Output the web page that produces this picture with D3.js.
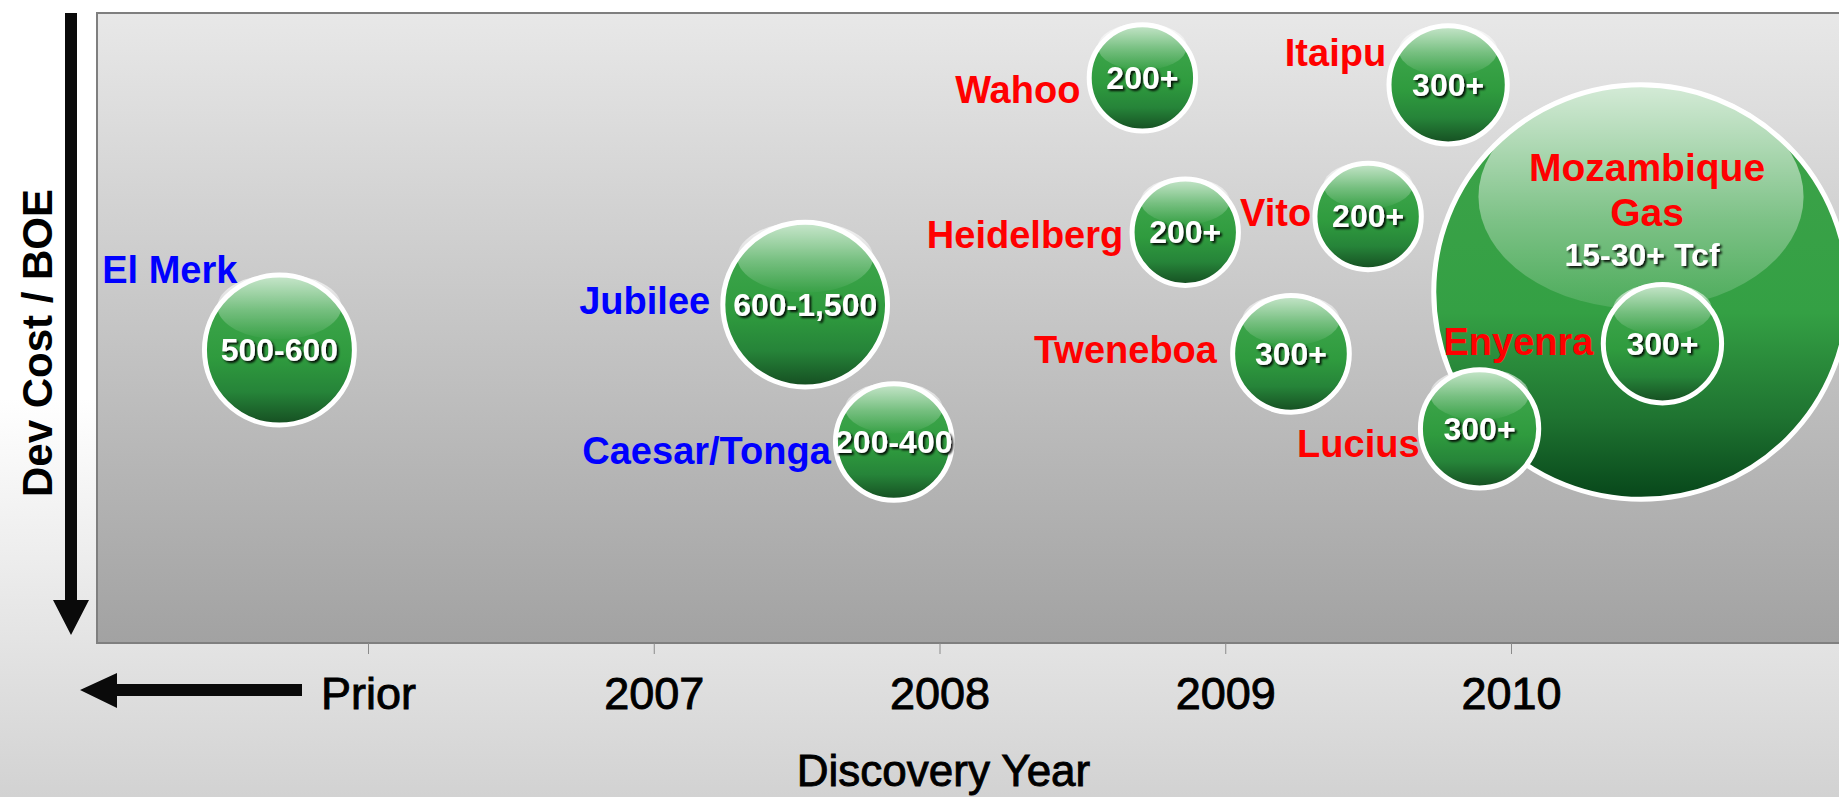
<!DOCTYPE html>
<html>
<head>
<meta charset="utf-8">
<script src="https://cdn.jsdelivr.net/npm/d3@7"></script>
<style>
  html, body { margin: 0; padding: 0; background: #fff; }
  svg { display: block; font-family: "Liberation Sans", Arial, Helvetica, sans-serif; }
</style>
</head>
<body>
<div id="chart"></div>
<script>
// x ticks: 2006 stands for everything "Prior"
const yearTicks = [2006, 2007, 2008, 2009, 2010];
const yearLabels = ['Prior', '2007', '2008', '2009', '2010'];

// discoveries (Mozambique first so the smaller bubbles sit on top of it)
const names = ['Mozambique Gas', 'El Merk', 'Jubilee', 'Caesar/Tonga', 'Wahoo', 'Heidelberg',
  'Tweneboa', 'Vito', 'Itaipu', 'Lucius', 'Enyenra'];
const discoveryYear = [2010.455, 2005.69, 2007.53, 2007.84, 2008.71, 2008.86,
  2009.23, 2009.50, 2009.78, 2009.89, 2010.53];
const devCostLevel = [55.7, 46.5, 53.7, 31.9, 89.7, 65.2, 45.9, 67.7, 88.6, 34.0, 47.5];
const bubbleSize = [440, 60, 72, 37, 31, 31, 37, 31, 38, 38, 38];
const resource = ['15-30+ Tcf', '500-600', '600-1,500', '200-400', '200+', '200+',
  '300+', '200+', '300+', '300+', '300+'];
const era = ['2008+', 'pre-2008', 'pre-2008', 'pre-2008', '2008+', '2008+',
  '2008+', '2008+', '2008+', '2008+', '2008+'];

// where each name sits relative to its bubble centre (text-anchor end)
const labelOffset = {
  'El Merk': [-42, -67], 'Jubilee': [-95, 9], 'Caesar/Tonga': [-63, 22],
  'Wahoo': [-62, 25], 'Heidelberg': [-62, 16], 'Tweneboa': [-74, 9],
  'Vito': [-57, 10], 'Itaipu': [-62, -19], 'Lucius': [-60, 28], 'Enyenra': [-69, 11]
};

const data = names.map((name, i) => ({
  name, year: discoveryYear[i], cost: devCostLevel[i], size: bubbleSize[i],
  value: resource[i], era: era[i]
}));

const W = 1839, H = 797;
const plot = { left: 97, top: 13, right: 1846, bottom: 643 };

const x = d3.scaleLinear().domain([2006, 2010]).range([368, 1511]);
const y = d3.scaleLinear().domain([0, 100]).range([plot.bottom, plot.top]);
const r = d3.scaleSqrt().domain([0, 100]).range([0, 100]);
const color = d3.scaleOrdinal().domain(['pre-2008', '2008+']).range(['#0000ff', '#ff0000']);

const svg = d3.select('#chart').append('svg')
  .attr('width', W)
  .attr('height', H);

const defs = svg.append('defs');

const grad = (id, stops) => {
  const g = defs.append('linearGradient').attr('id', id)
    .attr('x1', 0).attr('y1', 0).attr('x2', 0).attr('y2', 1);
  stops.forEach(([o, c, a]) => g.append('stop').attr('offset', o)
    .attr('stop-color', c).attr('stop-opacity', a == null ? 1 : a));
};

grad('pageBg', [[0, '#ffffff'], [0.5, '#ffffff'], [1, '#d2d2d2']]);
grad('plotBg', [[0, '#e8e8e8'], [1, '#a2a2a2']]);
grad('ball', [[0, '#45ab52'], [0.55, '#2f9b3e'], [0.78, '#268439'], [1, '#154d21']]);
grad('bigBall', [[0, '#3ea34a'], [0.55, '#34a044'], [0.8, '#1f7431'], [1, '#07461a']]);
grad('shine', [[0, '#ffffff', 0.72], [0.55, '#ffffff', 0.3], [1, '#ffffff', 0.02]]);
grad('bigShine', [[0, '#ffffff', 0.78], [0.6, '#ffffff', 0.35], [1, '#ffffff', 0.12]]);

defs.append('filter').attr('id', 'txtShadow')
  .attr('x', '-10%').attr('y', '-20%').attr('width', '130%').attr('height', '150%')
  .append('feDropShadow')
  .attr('dx', 2).attr('dy', 2).attr('stdDeviation', 0.9)
  .attr('flood-color', '#000').attr('flood-opacity', 0.9);

// backgrounds
svg.append('rect').attr('width', W).attr('height', H).attr('fill', 'url(#pageBg)');
svg.append('rect')
  .attr('x', plot.left).attr('y', plot.top)
  .attr('width', plot.right - plot.left).attr('height', plot.bottom - plot.top)
  .attr('fill', 'url(#plotBg)')
  .attr('stroke', '#7f7f7f')
  .attr('stroke-width', 2);

// x axis
const xAxis = d3.axisBottom(x)
  .tickValues(yearTicks)
  .tickFormat((d, i) => yearLabels[i])
  .tickSize(11)
  .tickPadding(23);

const gx = svg.append('g')
  .attr('transform', 'translate(0,' + plot.bottom + ')')
  .call(xAxis);
gx.select('.domain').remove();
gx.selectAll('.tick line').attr('stroke', '#8a8a8a').attr('stroke-width', 1);
gx.selectAll('.tick text')
  .attr('fill', '#000')
  .attr('stroke', '#000')
  .attr('stroke-width', 0.9)
  .style('font-size', '45px')
  .style('font-family', '"Liberation Sans", Arial, sans-serif');

svg.append('text')
  .attr('x', x(2008) + 4)
  .attr('y', 786)
  .attr('text-anchor', 'middle')
  .attr('fill', '#000')
  .attr('stroke', '#000')
  .attr('stroke-width', 0.9)
  .style('font-size', '44px')
  .text('Discovery Year');

svg.append('text')
  .attr('transform', 'translate(52,343) rotate(-90)')
  .attr('text-anchor', 'middle')
  .attr('fill', '#000')
  .style('font-size', '42px')
  .style('font-weight', 'bold')
  .text('Dev Cost / BOE');

// arrows
const arrows = svg.append('g').attr('fill', '#0a0a0a');
arrows.append('path')
  .attr('d', 'M65,13 H77 V600 H89 L71,635 L53,600 H65 Z');
arrows.append('path')
  .attr('d', 'M302,684 V696 H117 V708 L80,690 L117,673 V684 Z');

// bubbles
const bubbles = svg.append('g').selectAll('g.bubble')
  .data(data)
  .enter()
  .append('g')
  .attr('class', 'bubble')
  .attr('transform', d => 'translate(' + x(d.year) + ',' + y(d.cost) + ')');

bubbles.append('circle')
  .attr('r', d => r(d.size) - 2.5)
  .attr('fill', d => d.size > 200 ? 'url(#bigBall)' : 'url(#ball)')
  .attr('stroke', '#fff')
  .attr('stroke-width', 5);

bubbles.append('ellipse')
  .attr('cx', 0)
  .attr('cy', d => d.size > 200 ? -0.455 * r(d.size) : -0.56 * r(d.size))
  .attr('rx', d => (d.size > 200 ? 0.775 : 0.8) * r(d.size))
  .attr('ry', d => (d.size > 200 ? 0.535 : 0.42) * r(d.size))
  .attr('fill', d => d.size > 200 ? 'url(#bigShine)' : 'url(#shine)');

// names outside the small bubbles
const outside = data.filter(d => labelOffset[d.name]);
svg.append('g').selectAll('text')
  .data(outside)
  .enter()
  .append('text')
  .attr('x', d => x(d.year) + labelOffset[d.name][0])
  .attr('y', d => y(d.cost) + labelOffset[d.name][1])
  .attr('text-anchor', 'end')
  .attr('fill', d => color(d.era))
  .style('font-size', '38px')
  .style('font-weight', 'bold')
  .text(d => d.name);

// name inside the big bubble
const big = data.filter(d => !labelOffset[d.name]);
big.forEach(d => {
  const words = d.name.split(' ');
  svg.append('g').selectAll('text')
    .data(words)
    .enter()
    .append('text')
    .attr('x', x(d.year) + 6)
    .attr('y', (w, i) => y(d.cost) - 111 + i * 45)
    .attr('text-anchor', 'middle')
    .attr('fill', color(d.era))
    .style('font-size', '39px')
    .style('font-weight', 'bold')
    .text(w => w);
});

// resource values
svg.append('g').selectAll('text')
  .data(data)
  .enter()
  .append('text')
  .attr('x', d => x(d.year) + (labelOffset[d.name] ? 0 : 1))
  .attr('y', d => y(d.cost) + (labelOffset[d.name] ? 11 : -26))
  .attr('text-anchor', 'middle')
  .attr('fill', '#fff')
  .attr('filter', 'url(#txtShadow)')
  .style('font-size', '32px')
  .style('font-weight', 'bold')
  .text(d => d.value);
</script>
</body>
</html>
